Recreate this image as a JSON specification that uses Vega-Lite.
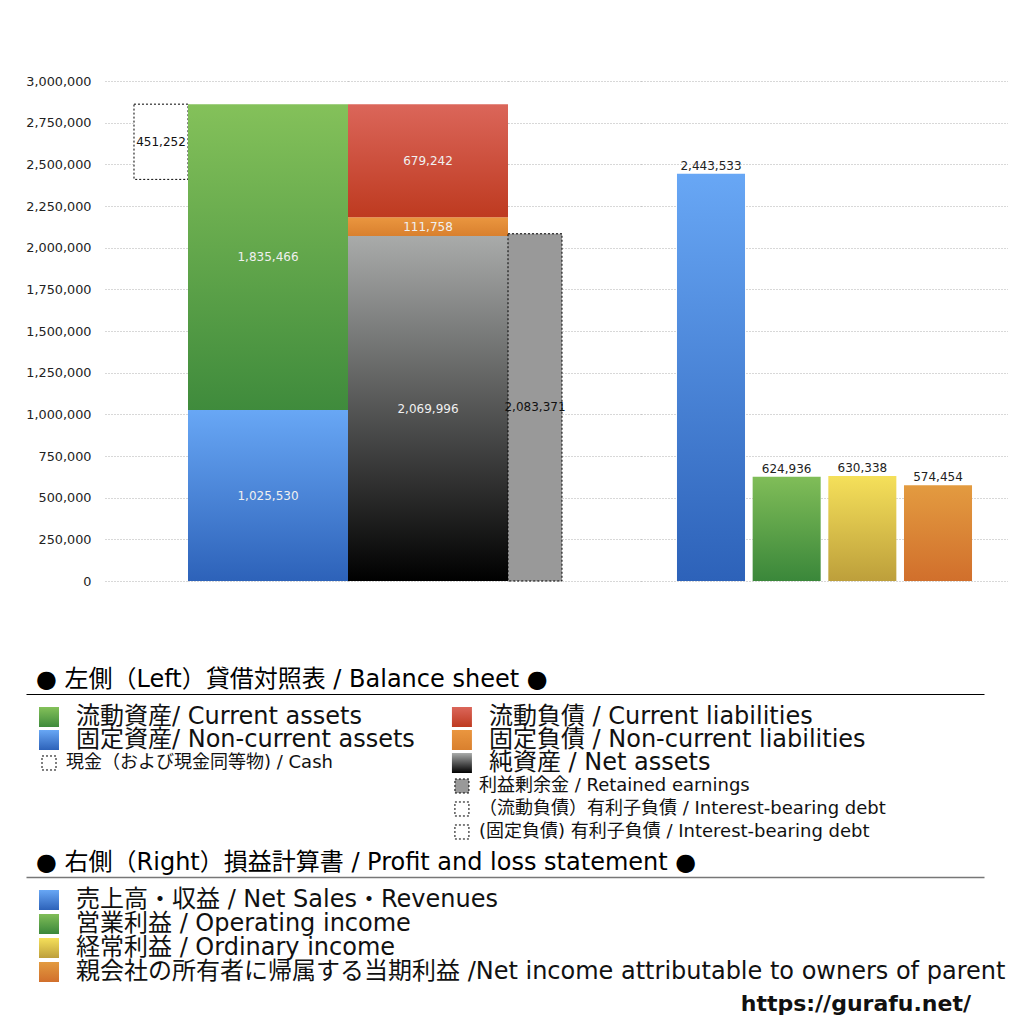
{
  "$schema": "https://vega.github.io/schema/vega-lite/v6.json",
  "background": "white",
  "padding": {"left": 25, "top": 75, "right": 0, "bottom": 0},
  "title": {
    "text": "https://gurafu.net/",
    "orient": "bottom",
    "anchor": "end",
    "fontSize": 22,
    "fontWeight": "bold",
    "font": "DejaVu Sans",
    "color": "#111",
    "offset": 10,
    "dx": -37
  },
  "datasets": {
    "bs": [
      {"group": "cash", "item": "base", "value": 2409744, "order": 1},
      {"group": "cash", "item": "現金", "value": 451252, "order": 2},
      {"group": "assets", "item": "固定資産", "value": 1025530, "order": 1},
      {"group": "assets", "item": "流動資産", "value": 1835466, "order": 2},
      {"group": "liabilities", "item": "純資産", "value": 2069996, "order": 1},
      {"group": "liabilities", "item": "固定負債", "value": 111758, "order": 2},
      {"group": "liabilities", "item": "流動負債", "value": 679242, "order": 3},
      {"group": "retained", "item": "利益剰余金", "value": 2083371, "order": 1}
    ],
    "pl": [
      {"item": "売上高・収益", "value": 2443533, "order": 1},
      {"item": "営業利益", "value": 624936, "order": 2},
      {"item": "経常利益", "value": 630338, "order": 3},
      {"item": "当期利益", "value": 574454, "order": 4}
    ],
    "legend_bs": [
      {"col": "left", "row": 1, "key": "current_assets", "size": "big", "label": "流動資産/ Current assets"},
      {"col": "left", "row": 2, "key": "noncurrent_assets", "size": "big", "label": "固定資産/ Non-current assets"},
      {"col": "left", "row": 3, "key": "cash", "size": "small", "label": "現金（および現金同等物) / Cash"},
      {"col": "right", "row": 1, "key": "current_liabilities", "size": "big", "label": "流動負債 /  Current liabilities"},
      {"col": "right", "row": 2, "key": "noncurrent_liabilities", "size": "big", "label": "固定負債 / Non-current liabilities"},
      {"col": "right", "row": 3, "key": "net_assets", "size": "big", "label": "純資産 / Net assets"},
      {"col": "right", "row": 4, "key": "retained", "size": "small", "label": "利益剰余金 / Retained earnings"},
      {"col": "right", "row": 5, "key": "debt", "size": "small", "label": "（流動負債）有利子負債 / Interest-bearing debt"},
      {"col": "right", "row": 6, "key": "debt", "size": "small", "label": "(固定負債) 有利子負債 / Interest-bearing debt"}
    ],
    "legend_pl": [
      {"col": "left", "row": 1, "key": "sales", "label": "売上高・収益 / Net Sales・Revenues"},
      {"col": "left", "row": 2, "key": "operating", "label": "営業利益 / Operating income"},
      {"col": "left", "row": 3, "key": "ordinary", "label": "経常利益 / Ordinary income"},
      {"col": "left", "row": 4, "key": "net_income", "label": "親会社の所有者に帰属する当期利益 /Net income attributable to owners of parent"}
    ]
  },
  "spacing": 0,
  "vconcat": [
    {
      "spacing": 0,
      "bounds": "flush",
      "hconcat": [
        {
          "width": 79,
          "height": 587,
          "data": {"values": []},
          "mark": "point",
          "encoding": {}
        },
        {
          "width": 83,
          "height": 500,
          "data": {"name": "bs"},
          "transform": [{"filter": "datum.group === 'cash'"}],
          "encoding": {
            "x": {"field": "group", "type": "nominal", "axis": null,
                  "scale": {"paddingInner": 0, "paddingOuter": 0.2685, "align": 1}},
            "order": {"field": "order", "type": "quantitative"}
          },
          "layer": [
            {
              "mark": {"type": "bar", "strokeDash": [2, 2], "strokeWidth": 1},
              "encoding": {
                "y": {
                  "field": "value", "type": "quantitative", "stack": "zero",
                  "scale": {"domain": [0, 3000000], "nice": false},
                  "axis": {
                    "values": [0, 250000, 500000, 750000, 1000000, 1250000, 1500000, 1750000, 2000000, 2250000, 2500000, 2750000, 3000000],
                    "labelExpr": "format(datum.value, ',')", "title": null, "grid": true, "ticks": false, "domain": false,
                    "labelPadding": 14, "labelFontSize": 12.8, "labelColor": "#222"
                  }
                },
                "fill": {"condition": {"test": "datum.item === 'base'", "value": "transparent"}, "value": "#ffffff"},
                "stroke": {"condition": {"test": "datum.item === 'base'", "value": null}, "value": "#000000"}
              }
            },
            {
              "mark": {"type": "text", "fontSize": 12, "color": "#111"},
              "encoding": {
                "y": {
                  "field": "value", "type": "quantitative", "stack": "zero", "bandPosition": 0.5,
                  "scale": {"domain": [0, 3000000], "nice": false},
                  "axis": {
                    "values": [0, 250000, 500000, 750000, 1000000, 1250000, 1500000, 1750000, 2000000, 2250000, 2500000, 2750000, 3000000],
                    "labelExpr": "format(datum.value, ',')", "title": null, "grid": true, "ticks": false, "domain": false,
                    "labelPadding": 14, "labelFontSize": 12.8, "labelColor": "#222"
                  }
                },
                "text": {"condition": {"test": "datum.item === 'base'", "value": ""}, "field": "value", "type": "quantitative", "format": ","}
              }
            }
          ]
        },
        {
          "width": 160,
          "height": 500,
          "data": {"name": "bs"},
          "transform": [{"filter": "datum.group === 'assets'"}],
          "encoding": {
            "x": {"field": "group", "type": "nominal", "axis": null,
                  "scale": {"paddingInner": 0, "paddingOuter": 0}},
            "order": {"field": "order", "type": "quantitative"}
          },
          "layer": [
            {
              "mark": {"type": "bar"},
              "encoding": {
                "y": {
                  "field": "value", "type": "quantitative", "stack": "zero",
                  "scale": {"domain": [0, 3000000], "nice": false},
                  "axis": {
                    "values": [0, 250000, 500000, 750000, 1000000, 1250000, 1500000, 1750000, 2000000, 2250000, 2500000, 2750000, 3000000],
                    "labels": false, "title": null, "grid": true, "ticks": false, "domain": false
                  }
                },
                "fill": {
                  "condition": {"test": "datum.item === '流動資産'",
                    "value": {"gradient": "linear", "x1": 0, "y1": 0, "x2": 0, "y2": 1,
                      "stops": [{"offset": 0, "color": "#84c15a"}, {"offset": 1, "color": "#3f8b3c"}]}},
                  "value": {"gradient": "linear", "x1": 0, "y1": 0, "x2": 0, "y2": 1,
                    "stops": [{"offset": 0, "color": "#68a7f5"}, {"offset": 1, "color": "#2d62b9"}]}
                }
              }
            },
            {
              "mark": {"type": "text", "fontSize": 12, "color": "#f0f0f0"},
              "encoding": {
                "y": {
                  "field": "value", "type": "quantitative", "stack": "zero", "bandPosition": 0.5,
                  "scale": {"domain": [0, 3000000], "nice": false},
                  "axis": {
                    "values": [0, 250000, 500000, 750000, 1000000, 1250000, 1500000, 1750000, 2000000, 2250000, 2500000, 2750000, 3000000],
                    "labels": false, "title": null, "grid": true, "ticks": false, "domain": false
                  }
                },
                "text": {"field": "value", "type": "quantitative", "format": ","}
              }
            }
          ]
        },
        {
          "width": 160,
          "height": 500,
          "data": {"name": "bs"},
          "transform": [{"filter": "datum.group === 'liabilities'"}],
          "encoding": {
            "x": {"field": "group", "type": "nominal", "axis": null,
                  "scale": {"paddingInner": 0, "paddingOuter": 0}},
            "order": {"field": "order", "type": "quantitative"}
          },
          "layer": [
            {
              "mark": {"type": "bar"},
              "encoding": {
                "y": {
                  "field": "value", "type": "quantitative", "stack": "zero",
                  "scale": {"domain": [0, 3000000], "nice": false},
                  "axis": {
                    "values": [0, 250000, 500000, 750000, 1000000, 1250000, 1500000, 1750000, 2000000, 2250000, 2500000, 2750000, 3000000],
                    "labels": false, "title": null, "grid": true, "ticks": false, "domain": false
                  }
                },
                "fill": {
                  "condition": [
                    {"test": "datum.item === '流動負債'",
                      "value": {"gradient": "linear", "x1": 0, "y1": 0, "x2": 0, "y2": 1,
                        "stops": [{"offset": 0, "color": "#db665a"}, {"offset": 1, "color": "#be3a20"}]}},
                    {"test": "datum.item === '固定負債'",
                      "value": {"gradient": "linear", "x1": 0, "y1": 0, "x2": 0, "y2": 1,
                        "stops": [{"offset": 0, "color": "#ea963f"}, {"offset": 1, "color": "#d9802e"}]}}
                  ],
                  "value": {"gradient": "linear", "x1": 0, "y1": 0, "x2": 0, "y2": 1,
                    "stops": [{"offset": 0, "color": "#a9abaa"}, {"offset": 1, "color": "#000000"}]}
                }
              }
            },
            {
              "mark": {"type": "text", "fontSize": 12, "color": "#f0f0f0"},
              "encoding": {
                "y": {
                  "field": "value", "type": "quantitative", "stack": "zero", "bandPosition": 0.5,
                  "scale": {"domain": [0, 3000000], "nice": false},
                  "axis": {
                    "values": [0, 250000, 500000, 750000, 1000000, 1250000, 1500000, 1750000, 2000000, 2250000, 2500000, 2750000, 3000000],
                    "labels": false, "title": null, "grid": true, "ticks": false, "domain": false
                  }
                },
                "text": {"field": "value", "type": "quantitative", "format": ","}
              }
            }
          ]
        },
        {
          "width": 133,
          "height": 500,
          "data": {"name": "bs"},
          "transform": [{"filter": "datum.group === 'retained'"}],
          "encoding": {
            "x": {"field": "group", "type": "nominal", "axis": null,
                  "scale": {"paddingInner": 0, "paddingOuter": 0.7315, "align": 0}},
            "order": {"field": "order", "type": "quantitative"}
          },
          "layer": [
            {
              "mark": {"type": "bar", "fill": "#999999", "stroke": "#000000", "strokeDash": [2, 2], "strokeWidth": 1},
              "encoding": {
                "y": {
                  "field": "value", "type": "quantitative", "stack": "zero",
                  "scale": {"domain": [0, 3000000], "nice": false},
                  "axis": {
                    "values": [0, 250000, 500000, 750000, 1000000, 1250000, 1500000, 1750000, 2000000, 2250000, 2500000, 2750000, 3000000],
                    "labels": false, "title": null, "grid": true, "ticks": false, "domain": false
                  }
                }
              }
            },
            {
              "mark": {"type": "text", "fontSize": 12, "color": "#111"},
              "encoding": {
                "y": {
                  "field": "value", "type": "quantitative", "stack": "zero", "bandPosition": 0.5,
                  "scale": {"domain": [0, 3000000], "nice": false},
                  "axis": {
                    "values": [0, 250000, 500000, 750000, 1000000, 1250000, 1500000, 1750000, 2000000, 2250000, 2500000, 2750000, 3000000],
                    "labels": false, "title": null, "grid": true, "ticks": false, "domain": false
                  }
                },
                "text": {"field": "value", "type": "quantitative", "format": ","}
              }
            }
          ]
        },
        {
          "width": 367,
          "height": 500,
          "data": {"name": "pl"},
          "encoding": {
            "x": {"field": "item", "type": "nominal", "axis": null,
                  "sort": {"field": "order"},
                  "scale": {"paddingInner": 0.101, "paddingOuter": 0.4755, "align": 0.5}}
          },
          "layer": [
            {
              "mark": {"type": "bar"},
              "encoding": {
                "y": {
                  "field": "value", "type": "quantitative",
                  "scale": {"domain": [0, 3000000], "nice": false},
                  "axis": {
                    "values": [0, 250000, 500000, 750000, 1000000, 1250000, 1500000, 1750000, 2000000, 2250000, 2500000, 2750000, 3000000],
                    "labels": false, "title": null, "grid": true, "ticks": false, "domain": false
                  }
                },
                "fill": {
                  "condition": [
                    {"test": "datum.item === '営業利益'",
                      "value": {"gradient": "linear", "x1": 0, "y1": 0, "x2": 0, "y2": 1,
                        "stops": [{"offset": 0, "color": "#80bd58"}, {"offset": 1, "color": "#3a873a"}]}},
                    {"test": "datum.item === '経常利益'",
                      "value": {"gradient": "linear", "x1": 0, "y1": 0, "x2": 0, "y2": 1,
                        "stops": [{"offset": 0, "color": "#f5e05a"}, {"offset": 1, "color": "#bd9f3b"}]}},
                    {"test": "datum.item === '当期利益'",
                      "value": {"gradient": "linear", "x1": 0, "y1": 0, "x2": 0, "y2": 1,
                        "stops": [{"offset": 0, "color": "#e39b40"}, {"offset": 1, "color": "#d16f2c"}]}}
                  ],
                  "value": {"gradient": "linear", "x1": 0, "y1": 0, "x2": 0, "y2": 1,
                    "stops": [{"offset": 0, "color": "#68a7f5"}, {"offset": 1, "color": "#2d62b9"}]}
                }
              }
            },
            {
              "mark": {"type": "text", "fontSize": 12, "color": "#222", "baseline": "bottom", "dy": -1},
              "encoding": {
                "y": {
                  "field": "value", "type": "quantitative",
                  "scale": {"domain": [0, 3000000], "nice": false},
                  "axis": {
                    "values": [0, 250000, 500000, 750000, 1000000, 1250000, 1500000, 1750000, 2000000, 2250000, 2500000, 2750000, 3000000],
                    "labels": false, "title": null, "grid": true, "ticks": false, "domain": false
                  }
                },
                "text": {"field": "value", "type": "quantitative", "format": ","}
              }
            }
          ]
        }
      ]
    },
    {
      "width": 958,
      "height": 157,
      "title": {
        "text": "● 左側（Left）貸借対照表 / Balance sheet ●",
        "anchor": "start", "fontSize": 24, "fontWeight": "normal", "color": "#000", "offset": 2, "dx": 10
      },
      "data": {"name": "legend_bs"},
      "encoding": {
        "x": {"field": "col", "type": "nominal",
              "scale": {"type": "point", "domain": ["left", "right"], "padding": 0.66, "align": 0.0422},
              "axis": {"orient": "top", "labels": false, "ticks": false, "domain": true, "domainColor": "#000", "domainWidth": 1, "title": null, "grid": false}},
        "y": {"field": "row", "type": "ordinal",
              "scale": {"type": "point", "domain": [1, 2, 3, 4, 5, 6], "padding": 0.913, "align": 0.5476},
              "axis": null}
      },
      "layer": [
        {
          "mark": {"type": "point", "shape": "square", "filled": true, "opacity": 1, "strokeDash": [2, 2], "strokeWidth": 1},
          "encoding": {
            "size": {"condition": {"test": "datum.size === 'small'", "value": 196}, "value": 400},
            "stroke": {"condition": {"test": "datum.size === 'small'", "value": "#000000"}, "value": null},
            "fill": {
              "condition": [
                {"test": "datum.key === 'current_assets'",
                  "value": {"gradient": "linear", "x1": 0, "y1": 0, "x2": 0, "y2": 1,
                    "stops": [{"offset": 0, "color": "#84c15a"}, {"offset": 1, "color": "#3f8b3c"}]}},
                {"test": "datum.key === 'noncurrent_assets'",
                  "value": {"gradient": "linear", "x1": 0, "y1": 0, "x2": 0, "y2": 1,
                    "stops": [{"offset": 0, "color": "#68a7f5"}, {"offset": 1, "color": "#2d62b9"}]}},
                {"test": "datum.key === 'current_liabilities'",
                  "value": {"gradient": "linear", "x1": 0, "y1": 0, "x2": 0, "y2": 1,
                    "stops": [{"offset": 0, "color": "#db665a"}, {"offset": 1, "color": "#be3a20"}]}},
                {"test": "datum.key === 'noncurrent_liabilities'",
                  "value": {"gradient": "linear", "x1": 0, "y1": 0, "x2": 0, "y2": 1,
                    "stops": [{"offset": 0, "color": "#ea963f"}, {"offset": 1, "color": "#d9802e"}]}},
                {"test": "datum.key === 'net_assets'",
                  "value": {"gradient": "linear", "x1": 0, "y1": 0, "x2": 0, "y2": 1,
                    "stops": [{"offset": 0, "color": "#a9abaa"}, {"offset": 1, "color": "#000000"}]}},
                {"test": "datum.key === 'retained'", "value": "#999999"}
              ],
              "value": "#ffffff"
            }
          }
        },
        {
          "transform": [{"filter": "datum.size === 'big'"}],
          "mark": {"type": "text", "align": "left", "dx": 27, "fontSize": 24, "color": "#111"},
          "encoding": {"text": {"field": "label"}}
        },
        {
          "transform": [{"filter": "datum.size === 'small'"}],
          "mark": {"type": "text", "align": "left", "dx": 17, "fontSize": 18, "color": "#111"},
          "encoding": {"text": {"field": "label"}}
        }
      ]
    },
    {
      "width": 958,
      "height": 107,
      "title": {
        "text": "● 右側（Right）損益計算書 / Profit and loss statement ●",
        "anchor": "start", "fontSize": 24, "fontWeight": "normal", "color": "#000", "offset": 2, "dx": 10
      },
      "data": {"name": "legend_pl"},
      "encoding": {
        "x": {"field": "col", "type": "nominal",
              "scale": {"type": "point", "domain": ["left", "right"], "padding": 0.66, "align": 0.0422},
              "axis": {"orient": "top", "labels": false, "ticks": false, "domain": true, "domainColor": "#777", "domainWidth": 1.5, "title": null, "grid": false}},
        "y": {"field": "row", "type": "ordinal",
              "scale": {"type": "point", "domain": [1, 2, 3, 4], "padding": 0.729, "align": 0.657},
              "axis": null}
      },
      "layer": [
        {
          "mark": {"type": "point", "shape": "square", "filled": true, "opacity": 1, "size": 400},
          "encoding": {
            "fill": {
              "condition": [
                {"test": "datum.key === 'operating'",
                  "value": {"gradient": "linear", "x1": 0, "y1": 0, "x2": 0, "y2": 1,
                    "stops": [{"offset": 0, "color": "#80bd58"}, {"offset": 1, "color": "#3a873a"}]}},
                {"test": "datum.key === 'ordinary'",
                  "value": {"gradient": "linear", "x1": 0, "y1": 0, "x2": 0, "y2": 1,
                    "stops": [{"offset": 0, "color": "#f5e05a"}, {"offset": 1, "color": "#bd9f3b"}]}},
                {"test": "datum.key === 'net_income'",
                  "value": {"gradient": "linear", "x1": 0, "y1": 0, "x2": 0, "y2": 1,
                    "stops": [{"offset": 0, "color": "#e39b40"}, {"offset": 1, "color": "#d16f2c"}]}}
              ],
              "value": {"gradient": "linear", "x1": 0, "y1": 0, "x2": 0, "y2": 1,
                "stops": [{"offset": 0, "color": "#68a7f5"}, {"offset": 1, "color": "#2d62b9"}]}
            }
          }
        },
        {
          "mark": {"type": "text", "align": "left", "dx": 27, "fontSize": 24, "color": "#111"},
          "encoding": {"text": {"field": "label"}}
        }
      ]
    }
  ],
  "config": {
    "view": {"stroke": null},
    "font": "DejaVu Sans, Noto Sans CJK JP",
    "title": {"font": "DejaVu Sans, Noto Sans CJK JP"},
    "axis": {"gridDash": [1, 2], "gridColor": "#b0b0b0", "gridWidth": 1, "labelFont": "DejaVu Sans, Noto Sans CJK JP"}
  }
}
